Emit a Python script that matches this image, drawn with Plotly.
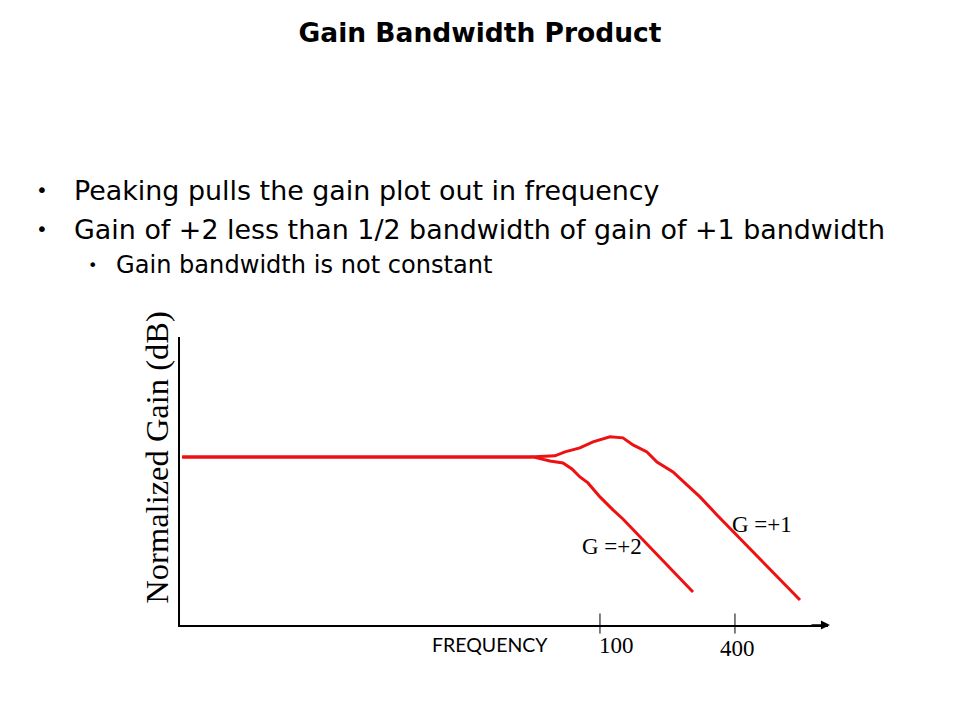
import math
import plotly.graph_objects as go

# frequency (arbitrary units, log axis) and normalized gain in dB
g1_freq = [1.37, 48.7, 63.0, 69.8, 81.4, 93.1, 110.8, 126.6, 140.4, 162.0, 179.6, 199.0, 211.7, 244.3, 279.3, 332.6, 780.0]
g1_gain = [0.0, 0.0, 0.1, 0.45, 0.8, 1.34, 1.79, 1.7, 1.07, 0.45, -0.45, -0.98, -1.34, -2.5, -3.57, -5.18, -12.77]

g2_freq = [1.37, 48.7, 50.2, 59.8, 68.4, 75.0, 81.4, 88.4, 100.0, 114.3, 126.6, 259.9]
g2_gain = [0.0, 0.0, 0.0, -0.36, -0.54, -1.07, -1.79, -2.32, -3.57, -4.73, -5.54, -12.05]

tick_vals = [100, 400]
tick_labels = ["100", "400"]

curve_labels = ["G =+1", "G =+2"]
curve_label_freq = [380, 81.5]
curve_label_gain = [-6.07, -7.95]

title = "Gain Bandwidth Product"
bullets = [
    "Peaking pulls the gain plot out in frequency",
    "Gain of +2 less than 1/2 bandwidth of gain of +1 bandwidth",
]
sub_bullet = "Gain bandwidth is not constant"

RED = "#ee1111"
SERIF = "Liberation Serif"
SANS = "DejaVu Sans"

fig = go.Figure()
fig.add_trace(go.Scatter(x=g1_freq, y=g1_gain, mode="lines",
                         line=dict(color=RED, width=3), hoverinfo="skip"))
fig.add_trace(go.Scatter(x=g2_freq, y=g2_gain, mode="lines",
                         line=dict(color=RED, width=3), hoverinfo="skip"))

# the page body adds 8px, so margins are shifted back by that much
fig.update_layout(
    width=960, height=720,
    margin=dict(l=172, r=140, t=329, b=103, autoexpand=False),
    paper_bgcolor="white", plot_bgcolor="white",
    showlegend=False,
    title=dict(text="<b>" + title + "</b>", x=480 / 960 - 8 / 960, xanchor="center",
               y=1 - 25 / 720, yanchor="middle", font=dict(family=SANS, size=26.5, color="black")),
    xaxis=dict(type="log", range=[0.127, 3.017], showline=True, linecolor="black",
               linewidth=1.5, showgrid=False, zeroline=False, showticklabels=False, ticks=""),
    yaxis=dict(range=[-15.0, 10.7], showline=True, linecolor="black", linewidth=1.5,
               showgrid=False, zeroline=False, showticklabels=False, ticks=""),
)

# tick marks crossing the axis
for tv in tick_vals:
    fig.add_shape(type="line", xref="x", yref="paper", x0=tv, x1=tv, y0=-0.03, y1=0.04,
                  line=dict(color="black", width=1))

# arrow at end of frequency axis
fig.add_annotation(x=1.003, y=0, xref="paper", yref="paper", ax=-20, ay=0,
                   showarrow=True, arrowhead=2, arrowsize=1.2, arrowwidth=1.5,
                   arrowcolor="black", text="", standoff=0)

# tick labels
fig.add_annotation(x=math.log10(tick_vals[0]), y=0, xref="x", yref="paper", yshift=-20,
                   yanchor="middle", text=tick_labels[0], showarrow=False, xanchor="left", xshift=-3,
                   font=dict(family=SERIF, size=23, color="black"))
fig.add_annotation(x=math.log10(tick_vals[1]), y=0, xref="x", yref="paper", yshift=-23,
                   yanchor="middle", text=tick_labels[1], showarrow=False, xanchor="center", xshift=3,
                   font=dict(family=SERIF, size=23, color="black"))

fig.add_annotation(x=0.478, y=-0.069, xref="paper", yref="paper", text="FREQUENCY",
                   xanchor="center", yanchor="middle", showarrow=False,
                   font=dict(family="Lato", size=19.5, color="black"))

# curve labels
for txt, fx, gy in zip(curve_labels, curve_label_freq, curve_label_gain):
    fig.add_annotation(x=math.log10(fx), y=gy, xref="x", yref="y", text=txt, showarrow=False,
                       xanchor="left", yanchor="middle", font=dict(family=SERIF, size=23, color="black"))

# y axis title
fig.add_annotation(x=-0.036, y=0.58, xref="paper", yref="paper", text="Normalized Gain (dB)",
                   textangle=-90, showarrow=False, xanchor="center", yanchor="middle",
                   font=dict(family=SERIF, size=32.5, color="black"))

# bullet text above the chart
bullet_y = [1.510, 1.375]
for txt, by in zip(bullets, bullet_y):
    fig.add_annotation(x=-0.213, y=by, xref="paper", yref="paper", text="•", showarrow=False,
                       xanchor="center", yanchor="middle", font=dict(family=SANS, size=20, color="black"))
    fig.add_annotation(x=-0.1666, y=by, xref="paper", yref="paper", text=txt, showarrow=False,
                       xanchor="left", yanchor="middle", font=dict(family=SANS, size=26.9, color="black"))
fig.add_annotation(x=-0.1358, y=1.25, xref="paper", yref="paper", text="•", showarrow=False,
                   xanchor="center", yanchor="middle", font=dict(family=SANS, size=16, color="black"))
fig.add_annotation(x=-0.1018, y=1.25, xref="paper", yref="paper", text=sub_bullet, showarrow=False,
                   xanchor="left", yanchor="middle", font=dict(family=SANS, size=24.1, color="black"))

fig.write_html("out.html")
